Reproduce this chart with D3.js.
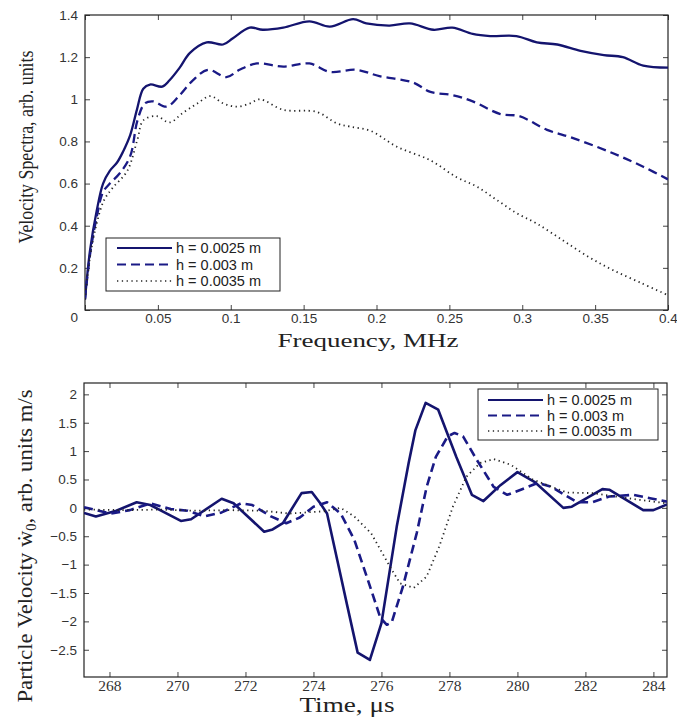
<!DOCTYPE html>
<html>
<head>
<meta charset="utf-8">
<script src="https://cdnjs.cloudflare.com/ajax/libs/d3/7.8.5/d3.min.js"></script>
<style>
  body { margin: 0; background: #fff; }
  .tick text { font-family: "Liberation Sans", Arial, sans-serif; font-size: 13.5px; fill: #333; }
  .axlabel { font-family: "Liberation Serif", "Times New Roman", serif; fill: #222; }
  .leg text { font-family: "Liberation Sans", Arial, sans-serif; font-size: 14.5px; fill: #222; }
</style>
</head>
<body>
<script>
// ---- top plot: velocity spectra ----
const specFreqSolid = [0, 0.0034, 0.008, 0.0124, 0.017, 0.022, 0.026, 0.031, 0.0356, 0.04, 0.0446, 0.053, 0.058, 0.065, 0.072, 0.0835, 0.0947, 0.1015, 0.113, 0.122, 0.136, 0.154, 0.168, 0.184, 0.193, 0.209, 0.223, 0.239, 0.252, 0.266, 0.278, 0.296, 0.31, 0.324, 0.34, 0.356, 0.369, 0.383, 0.4];
const specSolid = [0.05, 0.28, 0.47, 0.60, 0.66, 0.70, 0.75, 0.83, 0.95, 1.05, 1.07, 1.06, 1.09, 1.15, 1.22, 1.27, 1.26, 1.29, 1.34, 1.33, 1.34, 1.37, 1.345, 1.38, 1.36, 1.35, 1.36, 1.33, 1.34, 1.31, 1.30, 1.30, 1.27, 1.26, 1.23, 1.21, 1.20, 1.16, 1.15];

const specFreqDashed = [0, 0.0034, 0.008, 0.0124, 0.017, 0.024, 0.031, 0.036, 0.041, 0.0467, 0.056, 0.065, 0.074, 0.0844, 0.097, 0.106, 0.118, 0.136, 0.154, 0.168, 0.186, 0.202, 0.225, 0.237, 0.252, 0.266, 0.285, 0.298, 0.317, 0.333, 0.351, 0.367, 0.383, 0.4];
const specDashed = [0.05, 0.26, 0.44, 0.56, 0.60, 0.65, 0.73, 0.90, 0.98, 0.99, 0.965, 1.02, 1.09, 1.14, 1.105, 1.14, 1.17, 1.155, 1.17, 1.13, 1.14, 1.11, 1.08, 1.035, 1.02, 0.99, 0.93, 0.92, 0.855, 0.82, 0.775, 0.73, 0.68, 0.62];

const specFreqDotted = [0, 0.0034, 0.008, 0.013, 0.019, 0.029, 0.036, 0.04, 0.049, 0.058, 0.067, 0.077, 0.086, 0.095, 0.104, 0.113, 0.12, 0.136, 0.159, 0.173, 0.182, 0.196, 0.214, 0.237, 0.255, 0.269, 0.283, 0.296, 0.31, 0.328, 0.346, 0.362, 0.381, 0.4];
const specDotted = [0.05, 0.25, 0.41, 0.52, 0.58, 0.66, 0.81, 0.90, 0.92, 0.89, 0.935, 0.98, 1.015, 0.98, 0.965, 0.98, 1.0, 0.95, 0.94, 0.885, 0.87, 0.85, 0.775, 0.71, 0.63, 0.585, 0.52, 0.46, 0.41, 0.33, 0.25, 0.19, 0.13, 0.07];

const freqTicks = [0, 0.05, 0.1, 0.15, 0.2, 0.25, 0.3, 0.35, 0.4];
const specTicks = [0, 0.2, 0.4, 0.6, 0.8, 1, 1.2, 1.4];

// ---- bottom plot: particle velocity ----
const timeSolid = [267.25, 267.6, 268.2, 268.8, 269.2, 270.1, 270.4, 271.3, 271.65, 272.55, 272.8, 273.1, 273.65, 273.95, 274.2, 274.4, 274.7, 275.0, 275.3, 275.66, 276.0, 276.45, 276.8, 277.0, 277.3, 277.67, 278.2, 278.66, 279.0, 279.5, 280.0, 280.5, 281.35, 281.6, 282.5, 282.7, 283.7, 284.0, 284.4];
const velSolid = [-0.09, -0.15, -0.05, 0.1, 0.05, -0.23, -0.2, 0.16, 0.08, -0.42, -0.38, -0.27, 0.26, 0.28, 0.08, -0.1, -0.92, -1.74, -2.55, -2.68, -2.03, -0.33, 0.79, 1.37, 1.85, 1.73, 0.9, 0.23, 0.12, 0.4, 0.63, 0.46, 0.0, 0.02, 0.33, 0.32, -0.04, -0.04, 0.06];

const timeDashed = [267.25, 268.05, 268.6, 269.2, 269.8, 270.3, 270.8, 271.3, 271.87, 272.2, 272.75, 273.2, 273.6, 274.0, 274.4, 274.8, 275.2, 275.6, 275.97, 276.16, 276.3, 276.63, 277.04, 277.33, 277.6, 277.95, 278.15, 278.4, 278.8, 279.3, 279.7, 280.1, 280.6, 281.0, 281.75, 282.2, 282.7, 283.4, 283.9, 284.4];
const velDashed = [0.01, -0.1, -0.04, 0.08, -0.02, -0.05, -0.15, -0.08, 0.08, 0.05, -0.15, -0.27, -0.17, 0.02, 0.1, -0.1, -0.56, -1.27, -1.94, -2.06, -2.02, -1.39, -0.44, 0.37, 0.9, 1.26, 1.32, 1.26, 0.85, 0.37, 0.23, 0.32, 0.44, 0.37, 0.1, 0.1, 0.2, 0.23, 0.17, 0.11];

const timeDotted = [267.25, 268.5, 269.5, 270.5, 271.5, 272.5, 273.3, 274.3, 274.8, 275.2, 275.7, 276.3, 276.55, 276.95, 277.33, 277.7, 278.1, 278.5, 278.9, 279.3, 279.8, 280.45, 281.45, 282.2, 282.9, 283.6, 284.4];
const velDotted = [-0.03, -0.04, -0.03, -0.05, -0.04, -0.05, -0.1, -0.06, 0.0, -0.15, -0.45, -1.09, -1.33, -1.41, -1.21, -0.68, 0.02, 0.55, 0.79, 0.86, 0.76, 0.5, 0.27, 0.26, 0.2, 0.14, 0.08];

const timeTicks = [268, 270, 272, 274, 276, 278, 280, 282, 284];
const velTicks = [-2.5, -2, -1.5, -1, -0.5, 0, 0.5, 1, 1.5, 2];

const legendLabels = ["h = 0.0025 m", "h = 0.003 m", "h = 0.0035 m"];

const width = 677, height = 717;
const navy = "#14146e", navy2 = "#1a1a86", dotc = "#262626";

let svg = d3.select("body").append("svg")
    .attr("width", width)
    .attr("height", height);

// zip x and y arrays into point objects
function pts(xs, ys) {
    return xs.map((x, i) => ({ x: x, y: ys[i] }));
}

// draws one boxed matlab-ish plot
function drawPanel(opt) {
    let x = d3.scaleLinear().domain(opt.xDomain).range([opt.left, opt.right]);
    let y = d3.scaleLinear().domain(opt.yDomain).range([opt.bottom, opt.top]);
    let g = svg.append("g");

    g.append("clipPath").attr("id", opt.id)
        .append("rect")
        .attr("x", opt.left).attr("y", opt.top)
        .attr("width", opt.right - opt.left).attr("height", opt.bottom - opt.top);

    // ticks on all four sides, pointing in
    let xb = d3.axisBottom(x).tickValues(opt.xTicks).tickSize(-5).tickPadding(3).tickFormat(opt.xFormat);
    let xt = d3.axisTop(x).tickValues(opt.xTicks).tickSize(-5).tickFormat("");
    let yl = d3.axisLeft(y).tickValues(opt.yTicks).tickSize(-5).tickPadding(7).tickFormat(d3.format("~g"));
    let yr = d3.axisRight(y).tickValues(opt.yTicks).tickSize(-5).tickFormat("");

    g.append("g").attr("class", "xaxis").attr("transform", "translate(0," + opt.bottom + ")").call(xb);
    g.append("g").attr("transform", "translate(0," + opt.top + ")").call(xt);
    g.append("g").attr("class", "yaxis").attr("transform", "translate(" + opt.left + ",0)").call(yl);
    g.append("g").attr("transform", "translate(" + opt.right + ",0)").call(yr);
    g.selectAll(".domain").remove();
    g.selectAll(".tick line").attr("stroke", "#444");

    g.append("rect")
        .attr("x", opt.left).attr("y", opt.top)
        .attr("width", opt.right - opt.left).attr("height", opt.bottom - opt.top)
        .attr("fill", "none").attr("stroke", "#222").attr("stroke-width", 1.2);

    let line = d3.line()
        .x(d => x(d.x))
        .y(d => y(d.y))
        .curve(opt.curve);

    let lines = g.append("g").attr("clip-path", "url(#" + opt.id + ")");
    opt.series.forEach(s => {
        lines.append("path")
            .attr("d", line(s.data))
            .attr("fill", "none")
            .attr("stroke", s.color)
            .attr("stroke-width", s.width)
            .attr("stroke-dasharray", s.dash)
            .attr("stroke-linejoin", "round");
    });

    // legend box
    let L = opt.legend;
    let lg = g.append("g").attr("class", "leg");
    lg.append("rect")
        .attr("x", L.x).attr("y", L.y).attr("width", L.w).attr("height", L.h)
        .attr("fill", "#fff").attr("stroke", "#222").attr("stroke-width", 1);
    opt.series.forEach((s, i) => {
        let ry = L.y + L.first + i * L.step;
        lg.append("line")
            .attr("x1", L.x + L.lx1).attr("x2", L.x + L.lx2)
            .attr("y1", ry).attr("y2", ry)
            .attr("stroke", s.color).attr("stroke-width", s.legW || s.width)
            .attr("stroke-dasharray", s.dash);
        lg.append("text")
            .attr("x", L.x + L.lx2 + 4).attr("y", ry)
            .attr("dy", "0.35em")
            .text(legendLabels[i]);
    });
    return { x: x, y: y, g: g };
}

// top panel
let topPanel = drawPanel({
    id: "clipTop",
    left: 85, right: 668, top: 15, bottom: 310,
    xDomain: [0, 0.4], yDomain: [0, 1.4],
    xTicks: freqTicks, yTicks: specTicks,
    xFormat: d => d === 0 ? "" : d3.format("~g")(d),
    curve: d3.curveCatmullRom.alpha(0.5),
    series: [
        { data: pts(specFreqSolid, specSolid), color: navy, width: 2.3, dash: null, legW: 2 },
        { data: pts(specFreqDashed, specDashed), color: navy2, width: 2.3, dash: "9,5", legW: 2 },
        { data: pts(specFreqDotted, specDotted), color: dotc, width: 1.8, dash: "1.3,3.5", legW: 1.5 }
    ],
    legend: { x: 106, y: 238, w: 174, h: 53, first: 10, step: 16.5, lx1: 11, lx2: 66 }
});
// the lone "0" at the corner sits a bit lower
topPanel.g.selectAll(".yaxis .tick text").filter(d => d === 0).attr("dy", "0.85em");

// bottom panel
let botPanel = drawPanel({
    id: "clipBot",
    left: 84, right: 667, top: 383, bottom: 677,
    xDomain: [267.25, 284.4], yDomain: [-2.98, 2.2],
    xTicks: timeTicks, yTicks: velTicks,
    xFormat: d3.format("d"),
    curve: d3.curveLinear,
    series: [
        { data: pts(timeSolid, velSolid), color: navy, width: 2.6, dash: null, legW: 2 },
        { data: pts(timeDashed, velDashed), color: navy2, width: 2.6, dash: "9,5", legW: 2 },
        { data: pts(timeDotted, velDotted), color: dotc, width: 1.8, dash: "1.3,3.5", legW: 1.5 }
    ],
    legend: { x: 478, y: 389, w: 180, h: 51, first: 11, step: 15.5, lx1: 10, lx2: 65 }
});
// time ticks are set in a serif face in the original
botPanel.g.select(".xaxis").selectAll("text")
    .attr("style", "font-family: 'Liberation Serif', 'Times New Roman', serif; font-size: 15.5px; fill: #333");

// axis titles
svg.append("text").attr("class", "axlabel")
    .attr("x", 368).attr("y", 347)
    .attr("text-anchor", "middle")
    .attr("font-size", 19)
    .attr("textLength", 181).attr("lengthAdjust", "spacingAndGlyphs")
    .text("Frequency, MHz");

svg.append("text").attr("class", "axlabel")
    .attr("transform", "translate(33,147) rotate(-90)")
    .attr("text-anchor", "middle")
    .attr("font-size", 22)
    .attr("textLength", 193).attr("lengthAdjust", "spacingAndGlyphs")
    .text("Velocity Spectra, arb. units");

svg.append("text").attr("class", "axlabel")
    .attr("x", 347).attr("y", 712)
    .attr("text-anchor", "middle")
    .attr("font-size", 20)
    .attr("textLength", 95).attr("lengthAdjust", "spacingAndGlyphs")
    .text("Time, \u03bcs");

let yl2 = svg.append("text").attr("class", "axlabel")
    .attr("transform", "translate(32,546) rotate(-90)")
    .attr("text-anchor", "middle")
    .attr("font-size", 22)
    .attr("textLength", 313).attr("lengthAdjust", "spacingAndGlyphs");
yl2.append("tspan").text("Particle Velocity \u1e87");
yl2.append("tspan").attr("font-size", 14).attr("dy", 4).text("0");
yl2.append("tspan").attr("dy", -4).text(", arb. units m/s");
</script>
</body>
</html>
